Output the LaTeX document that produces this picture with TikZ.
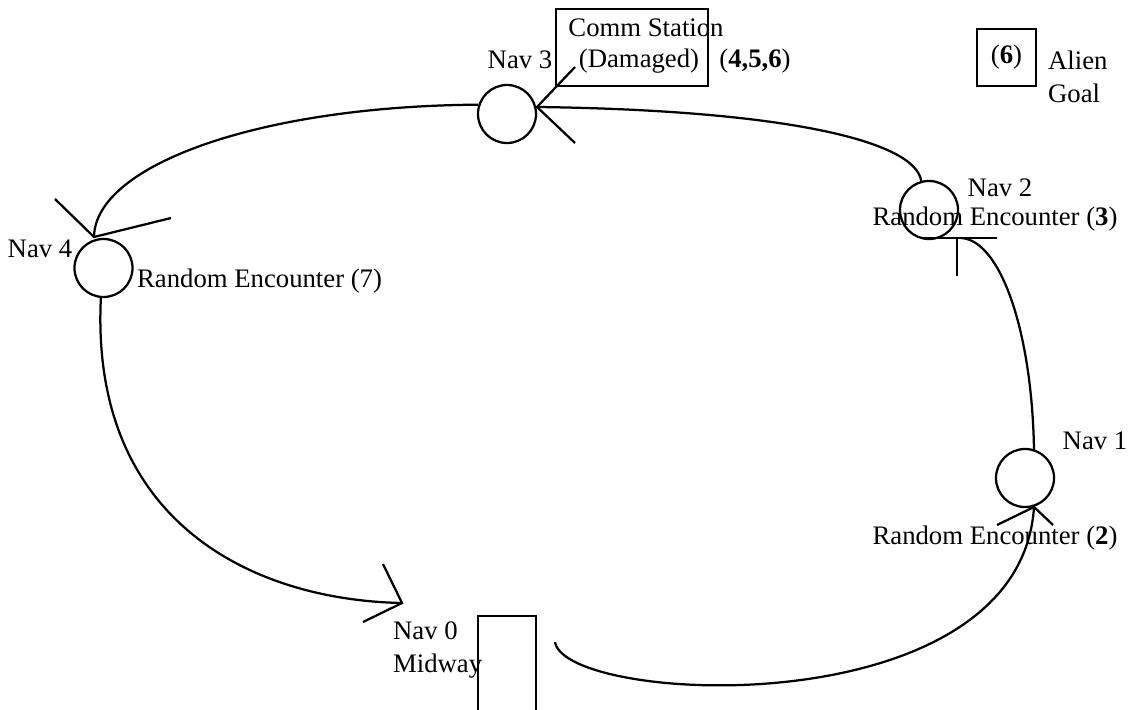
\documentclass[tikz,border=0pt]{standalone}
\usepackage{fontspec}
\setmainfont{Liberation Serif}
\begin{document}
\begin{tikzpicture}[x=0.025cm, y=-0.025cm, line width=1.6pt,
    font=\fontsize{19}{23.4}\selectfont,
    navstop/.style={draw, circle, minimum size=1.45cm, inner sep=0pt},
    station/.style={draw, rectangle, inner sep=0pt},
    txt/.style={inner sep=0pt, align=left}]
    \useasboundingbox (0,0) rectangle (1128,709);

    % stations
    \node[navstop] (nav1) at (1025,478) {};
    \node[navstop] (nav2) at (929,210) {};
    \node[navstop] (nav3) at (507,114) {};
    \node[navstop] (nav4) at (103.5,268) {};
    \node[station, minimum width=3.8cm, minimum height=1.925cm] (comm) at (632,47.5) {};
    \node[station, minimum width=1.475cm, minimum height=1.425cm] (goal) at (1006.5,57.5) {(\textbf{6})};
    \node[station, minimum width=1.45cm, minimum height=2.6cm] (midway) at (507,668) {};

    % labels
    \node[txt] (lcomm) at (646,28) {Comm Station};
    \node[txt] (ldamaged) at (639,61) {(Damaged)};
    \node[txt] (l3) at (520,60) {Nav 3};
    \node[txt] (lcommenc) at (755,61) {(\textbf{4,5,6})};
    \node[txt, anchor=west] (lgoal) at (1047,77) {Alien\\Goal};
    \node[txt] (l2) at (1000,188) {Nav 2};
    \node[txt] (enc3) at (995,219) {Random Encounter (\textbf{3})};
    \node[txt] (l4) at (40,249) {Nav 4};
    \node[txt, anchor=west] (enc7) at (136,281) {Random Encounter (7)};
    \node[txt] (l1) at (1095,441) {Nav 1};
    \node[txt] (enc2) at (995,538) {Random Encounter (\textbf{2})};
    \node[txt, anchor=west] (l0) at (392,650) {Nav 0\\Midway};

    % route points
    \coordinate (t3) at (537,107);
    \coordinate (t4) at (94,237);
    \coordinate (t1) at (1034,507);
    \coordinate (t0) at (402,603);
    \coordinate (s2) at (961,238);
    \coordinate (s1) at (1034,450);
    \coordinate (s0) at (555,642);

    % route
    \draw (nav3.162) .. controls (260,106) and (95,165) .. (t4);
    \draw (t3) .. controls (780,110) and (915,140) .. (nav2.105);
    \draw (s2) .. controls (1000,240) and (1032,330) .. (s1);
    \draw (s0) .. controls (565,705) and (1020,728) .. (t1);
    \draw (nav4.265) .. controls (90,520) and (250,600) .. (t0);

    % arrow heads
    \draw (575,67) -- (t3) -- (575,143);
    \draw (55,199) -- (t4) -- (171,218);
    \draw (997,525) -- (t1) -- (1053,525);
    \draw (383,564) -- (t0) -- (363,622);
    \draw (922,238) -- (997,238);
    \draw (957,238) -- (957,276);
\end{tikzpicture}
\end{document}
